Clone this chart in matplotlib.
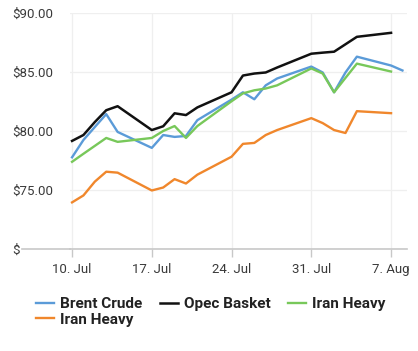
import matplotlib
matplotlib.use("Agg")
import matplotlib.pyplot as plt
import matplotlib.dates as mdates
from matplotlib.lines import Line2D
import pandas as pd

plt.rcParams['font.family'] = ['Roboto', 'DejaVu Sans']

dates = ["2023-07-10", "2023-07-11", "2023-07-12", "2023-07-13", "2023-07-14",
         "2023-07-17", "2023-07-18", "2023-07-19", "2023-07-20", "2023-07-21",
         "2023-07-24", "2023-07-25", "2023-07-26", "2023-07-27", "2023-07-28",
         "2023-07-31", "2023-08-01", "2023-08-02", "2023-08-03", "2023-08-04",
         "2023-08-07"]
brent_dates = dates + ["2023-08-08"]

brent = [77.77, 79.24, 80.34, 81.43, 79.92, 78.57, 79.66, 79.50, 79.58, 80.92,
         82.66, 83.28, 82.69, 83.87, 84.45, 85.46, 84.96, 83.28, 84.96, 86.30,
         85.55, 85.13]
opec = [79.16, 79.66, 80.76, 81.76, 82.10, 80.08, 80.40, 81.50, 81.35, 82.00,
        83.28, 84.70, 84.87, 84.96, 85.38, 86.55, 86.64, 86.72, 87.35, 87.98,
        88.32]
iran_heavy_green = [77.39, 78.07, 78.74, 79.41, 79.08, 79.41, 80.00, 80.42, 79.41, 80.42,
                    82.52, 83.19, 83.45, 83.60, 83.87, 85.30, 84.87, 83.28, 84.50, 85.71,
                    85.04]
iran_heavy_orange = [73.95, 74.54, 75.71, 76.55, 76.47, 74.96, 75.21, 75.92, 75.55, 76.30,
                     77.82, 78.91, 78.99, 79.66, 80.08, 81.09, 80.67, 80.08, 79.83, 81.68,
                     81.51]

y_ticks = [70, 75, 80, 85, 90]
y_labels = ["$", "$75.00", "$80.00", "$85.00", "$90.00"]
x_ticks = ["2023-07-10", "2023-07-17", "2023-07-24", "2023-07-31", "2023-08-07"]
x_labels = ["10. Jul", "17. Jul", "24. Jul", "31. Jul", "7. Aug"]

W, H = 418, 351
fig = plt.figure(figsize=(W / 100, H / 100), dpi=100)
ax_l, ax_r, ax_t, ax_b = 70, 407, 13, 249
ax = fig.add_axes([ax_l / W, 1 - ax_b / H, (ax_r - ax_l) / W, (ax_b - ax_t) / H])

d = pd.to_datetime(dates)
bd = pd.to_datetime(brent_dates)

c_blue = "#5b9bd8"
c_black = "#111111"
c_green = "#78c85a"
c_orange = "#f0872c"

l1, = ax.plot(bd, brent, color=c_blue, lw=1.7, label="Brent Crude", zorder=3)
l2, = ax.plot(d, opec, color=c_black, lw=1.8, label="Opec Basket", zorder=4)
l3, = ax.plot(d, iran_heavy_green, color=c_green, lw=1.7, label="Iran Heavy", zorder=3)
l4, = ax.plot(d, iran_heavy_orange, color=c_orange, lw=1.7, label="Iran Heavy", zorder=3)

x0 = pd.Timestamp("2023-07-10") - pd.Timedelta(days=0.18)
x1 = pd.Timestamp("2023-08-08") + pd.Timedelta(days=0.4)
ax.set_xlim(x0, x1)
ax.set_ylim(70, 90)

ax.set_yticks(y_ticks)
ax.set_yticklabels(y_labels)
ax.set_xticks(pd.to_datetime(x_ticks))
ax.set_xticklabels(x_labels)

ax.tick_params(axis='y', length=0, pad=(ax_l - 12) * 0.72, labelsize=9.5, labelcolor="#3a3a3a")
for lab in ax.get_yticklabels():
    lab.set_horizontalalignment('left')
ax.tick_params(axis='x', length=6, width=1, color="#c8c8c8", pad=4,
               labelsize=9.5, labelcolor="#3a3a3a")

ax.grid(True, color="#efefef", lw=0.9, zorder=0)
for s in ["top", "right", "left"]:
    ax.spines[s].set_visible(False)
ax.spines["bottom"].set_color("#c8c8c8")
ax.spines["bottom"].set_linewidth(1.2)
fig.add_artist(Line2D([22 / W, ax_l / W], [1 - ax_b / H, 1 - ax_b / H],
                      color="#c8c8c8", lw=1.2))

leg = fig.legend(handles=[l1, l4, l2, l3], labels=["Brent Crude", "Iran Heavy", "Opec Basket", "Iran Heavy"],
                 ncol=3, loc="upper left", bbox_to_anchor=(36 / W, 1 - 297 / H),
                 frameon=False, borderpad=0, borderaxespad=0,
                 handlelength=1.2, handletextpad=0.4,
                 columnspacing=1.1, labelspacing=0.12,
                 prop={'weight': 'bold', 'size': 11})
for t in leg.get_texts():
    t.set_color("#222222")

fig.savefig("out.png", dpi=100)
